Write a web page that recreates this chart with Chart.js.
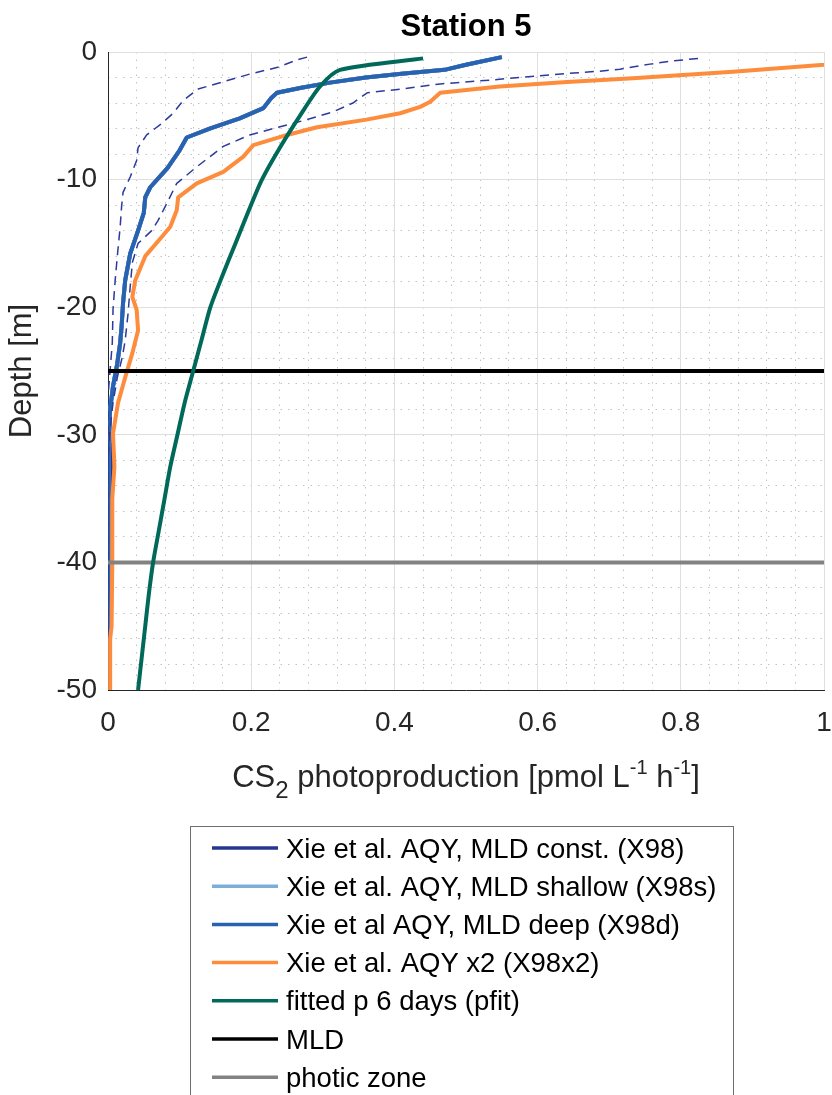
<!DOCTYPE html>
<html>
<head>
<meta charset="utf-8">
<title>Station 5</title>
<script src="https://cdn.jsdelivr.net/npm/chart.js@4.4.1/dist/chart.umd.min.js"></script>
<style>
  html, body { margin: 0; padding: 0; background: #fff; }
  canvas { display: block; }
</style>
</head>
<body>
<canvas id="profileChart" width="832" height="1095"></canvas>
<script>
"use strict";
// depth in m (positive downwards), CS2 production in pmol L-1 h-1
const depthX98 = [0.4, 1.0, 1.4, 1.7, 2.0, 2.4, 2.8, 3.2, 3.6, 4.4, 5.2, 6.0, 6.7, 7.7, 9.1, 10.6, 11.4, 12.6, 14, 15.8, 17.9, 19.7, 21.5, 22.8, 24.4, 26.2, 28, 30, 32, 33.5, 35, 37, 40, 43, 45, 47, 50];
const valX98 = [0.55, 0.5, 0.47, 0.41, 0.36, 0.31, 0.27, 0.236, 0.228, 0.217, 0.184, 0.142, 0.11, 0.1, 0.083, 0.059, 0.052, 0.05, 0.042, 0.031, 0.024, 0.021, 0.019, 0.017, 0.013, 0.007, 0.003, 0.002, 0.004, 0.004, 0.001, 0, 0, 0, 0, 0, 0];
const valX98s = [0.55, 0.5, 0.47, 0.41, 0.36, 0.31, 0.27, 0.236, 0.228, 0.217, 0.184, 0.142, 0.11, 0.1, 0.083, 0.059, 0.052, 0.05, 0.042, 0.031, 0.024, 0.021, 0.019, 0.017, 0.013, 0.007, 0.003, 0.001, 0, 0, 0, 0, 0, 0, 0, 0, 0];
const valX98d = [0.55, 0.5, 0.47, 0.41, 0.36, 0.31, 0.27, 0.236, 0.228, 0.217, 0.184, 0.142, 0.11, 0.1, 0.083, 0.059, 0.052, 0.05, 0.042, 0.031, 0.024, 0.021, 0.019, 0.017, 0.013, 0.007, 0.003, 0.001, 0, 0, 0, 0, 0, 0, 0, 0, 0];

const depthX98Low = [0.4, 0.6, 1.2, 1.7, 2.3, 2.9, 3.8, 4.8, 5.6, 6.5, 7.5, 8.5, 9.8, 11, 12.1, 13.7, 16, 17.9, 20.2, 22.8, 24.9, 27, 50];
const valX98Low = [0.278, 0.265, 0.237, 0.2, 0.163, 0.126, 0.105, 0.091, 0.075, 0.054, 0.042, 0.04, 0.031, 0.021, 0.019, 0.017, 0.013, 0.01, 0.007, 0.006, 0.003, 0, 0];

const depthX98High = [0.5, 0.7, 0.95, 1.35, 1.5, 1.65, 2.0, 2.2, 2.5, 2.9, 3.2, 4.0, 4.7, 5.3, 6.0, 6.5, 7.4, 9.0, 10.3, 12.1, 13.2, 14, 15, 16.5, 18.4, 20.5, 22.6, 23.9, 25.5, 27.5, 29.5, 32, 50];
const valX98High = [0.824, 0.789, 0.757, 0.715, 0.687, 0.65, 0.575, 0.534, 0.464, 0.41, 0.362, 0.342, 0.314, 0.278, 0.231, 0.198, 0.161, 0.124, 0.096, 0.08, 0.07, 0.061, 0.042, 0.034, 0.031, 0.028, 0.024, 0.02, 0.013, 0.007, 0.003, 0, 0];

const depthX98x2 = [0.5, 1.0, 1.55, 2.05, 2.35, 2.7, 3.2, 3.9, 4.3, 4.8, 5.3, 5.9, 6.5, 7.3, 8.2, 9.4, 10.3, 11.4, 12.4, 13.7, 14.5, 16, 17.9, 19.2, 20.2, 21.8, 23.6, 25.5, 27.5, 29.9, 32.5, 35, 40, 45, 46, 50];
const valX98x2 = [1.08, 1.0, 0.873, 0.733, 0.641, 0.547, 0.464, 0.45, 0.436, 0.408, 0.361, 0.292, 0.25, 0.203, 0.189, 0.161, 0.124, 0.098, 0.096, 0.087, 0.075, 0.052, 0.038, 0.034, 0.04, 0.042, 0.034, 0.024, 0.014, 0.007, 0.009, 0.006, 0.006, 0.005, 0.003, 0.003];

const depthPfit = [0.5, 1.4, 2.7, 5, 7.5, 10, 12.5, 15, 17.5, 20, 22.5, 25, 27.5, 30, 32.5, 35, 37.5, 40, 42.5, 45, 47.5, 50];
const valPfit = [0.44, 0.324, 0.296, 0.268, 0.24, 0.215, 0.196, 0.178, 0.16, 0.143, 0.131, 0.119, 0.107, 0.097, 0.087, 0.079, 0.071, 0.063, 0.057, 0.052, 0.047, 0.042];

const mldDepth = 25;
const photicDepth = 40;

const xTickValues = [0, 0.2, 0.4, 0.6, 0.8, 1];
const yTickValues = [0, -10, -20, -30, -40, -50];

const FONT = '"Liberation Sans", Arial, Helvetica, sans-serif';
const TEXT = '#262626';

function toPoints(depths, values) {
    return depths.map((d, i) => ({ x: values[i], y: -d }));
}

function curve(label, data, color, width, order, extra) {
    return Object.assign({
        label: label,
        data: data,
        borderColor: color,
        backgroundColor: color,
        borderWidth: width,
        showLine: true,
        pointRadius: 0,
        pointHoverRadius: 0,
        tension: 0,
        fill: false,
        order: order,
        borderJoinStyle: 'round'
    }, extra || {});
}

const xRange = [xTickValues[0], xTickValues[xTickValues.length - 1]];
const hLine = depth => xRange.map(x => ({ x: x, y: -depth }));

// title, x label with sub/superscripts and the boxed legend
const matlabDecor = {
    id: 'matlabDecor',
    afterDraw(chart) {
        const ctx = chart.ctx;
        const area = chart.chartArea;
        const cx = (area.left + area.right) / 2;
        ctx.save();
        ctx.fillStyle = '#000';
        ctx.textAlign = 'center';
        ctx.textBaseline = 'alphabetic';
        ctx.font = 'bold 31px ' + FONT;
        ctx.fillText('Station 5', cx, 36);

        // x label
        const parts = [
            { t: 'CS', s: 31, dy: 0 },
            { t: '2', s: 24, dy: 11 },
            { t: ' photoproduction [pmol L', s: 31, dy: 0 },
            { t: '-1', s: 20, dy: -13 },
            { t: ' h', s: 31, dy: 0 },
            { t: '-1', s: 20, dy: -13 },
            { t: ']', s: 31, dy: 0 }
        ];
        let total = 0;
        parts.forEach(p => { ctx.font = p.s + 'px ' + FONT; p.w = ctx.measureText(p.t).width; total += p.w; });
        let x = cx - total / 2;
        ctx.textAlign = 'left';
        ctx.fillStyle = TEXT;
        parts.forEach(p => {
            ctx.font = p.s + 'px ' + FONT;
            ctx.fillText(p.t, x, 787 + p.dy);
            x += p.w;
        });

        // legend
        const items = chart.data.datasets.filter(ds => ds.inLegend !== false);
        const box = { left: 190, top: 826, right: 733, bottom: 1100 };
        ctx.fillStyle = '#fff';
        ctx.fillRect(box.left, box.top, box.right - box.left, box.bottom - box.top);
        ctx.strokeStyle = '#6e6e6e';
        ctx.lineWidth = 1;
        ctx.strokeRect(box.left + 0.5, box.top + 0.5, box.right - box.left, box.bottom - box.top);
        ctx.font = '27.5px ' + FONT;
        ctx.textBaseline = 'middle';
        items.forEach((ds, i) => {
            const y = 848 + i * 38.2;
            ctx.strokeStyle = ds.borderColor;
            ctx.lineWidth = 3.5;
            ctx.beginPath();
            ctx.moveTo(212, y);
            ctx.lineTo(278, y);
            ctx.stroke();
            ctx.fillStyle = '#000';
            ctx.fillText(ds.label, 286, y + 2);
        });
        ctx.restore();
    }
};

new Chart(document.getElementById('profileChart'), {
    type: 'scatter',
    data: {
        datasets: [
            curve('Xie et al. AQY, MLD const. (X98)', toPoints(depthX98, valX98), '#263592', 4, 9),
            curve('Xie et al. AQY, MLD shallow (X98s)', toPoints(depthX98, valX98s), '#7bafd9', 4, 8),
            curve('Xie et al AQY, MLD deep (X98d)', toPoints(depthX98, valX98d), '#2763b1', 4, 7),
            curve('Xie et al. AQY x2 (X98x2)', toPoints(depthX98x2, valX98x2), '#fd8d3c', 4, 5),
            curve('fitted p 6 days (pfit)', toPoints(depthPfit, valPfit), '#00695a', 4, 1, { tension: 0.25 }),
            curve('MLD', hLine(mldDepth), '#000000', 4, 3),
            curve('photic zone', hLine(photicDepth), '#828282', 4, 2),
            curve('X98 low', toPoints(depthX98Low, valX98Low), '#2b3a9c', 1.5, 6, { borderDash: [9, 6], inLegend: false }),
            curve('X98 high', toPoints(depthX98High, valX98High), '#2b3a9c', 1.5, 6, { borderDash: [9, 6], inLegend: false })
        ]
    },
    options: {
        responsive: false,
        devicePixelRatio: 1,
        animation: false,
        layout: { padding: { top: 52, right: 8, left: 0, bottom: 0 } },
        plugins: {
            legend: { display: false },
            title: { display: false },
            tooltip: { enabled: false }
        },
        scales: {
            xMinor: {
                type: 'linear', position: 'bottom', min: 0, max: 1,
                ticks: { display: false, stepSize: 0.04 },
                grid: { color: '#c2c2c2', lineWidth: 1, drawTicks: false },
                border: { display: false, dash: [1.5, 6] },
                afterFit: s => { s.height = 0; }
            },
            yMinor: {
                type: 'linear', position: 'left', min: -50, max: 0,
                ticks: { display: false, stepSize: 2 },
                grid: { color: '#c2c2c2', lineWidth: 1, drawTicks: false },
                border: { display: false, dash: [1.5, 6] },
                afterFit: s => { s.width = 0; }
            },
            x: {
                type: 'linear', position: 'bottom', min: 0, max: 1,
                afterBuildTicks: s => { s.ticks = xTickValues.map(v => ({ value: v })); },
                afterFit: s => { s.height = 405; s.paddingLeft = 0; s.paddingRight = 0; },
                ticks: { font: { size: 28, family: FONT }, color: TEXT, padding: 16, autoSkip: false, maxRotation: 0, callback: v => String(v) },
                grid: { color: '#dfdfdf', lineWidth: 1, drawTicks: false },
                border: { display: true, color: TEXT, width: 1 }
            },
            y: {
                type: 'linear', position: 'left', min: -50, max: 0,
                afterBuildTicks: s => { s.ticks = yTickValues.map(v => ({ value: v })); },
                afterFit: s => { s.width = 108; s.paddingTop = 0; s.paddingBottom = 0; },
                ticks: { font: { size: 28, family: FONT }, color: TEXT, padding: 11, autoSkip: false, callback: v => String(v) },
                title: { display: true, text: 'Depth [m]', font: { size: 31, family: FONT }, color: TEXT, padding: { top: 4, bottom: 0 } },
                grid: { color: '#dfdfdf', lineWidth: 1, drawTicks: false },
                border: { display: true, color: TEXT, width: 1 }
            }
        }
    },
    plugins: [matlabDecor]
});
</script>
</body>
</html>
